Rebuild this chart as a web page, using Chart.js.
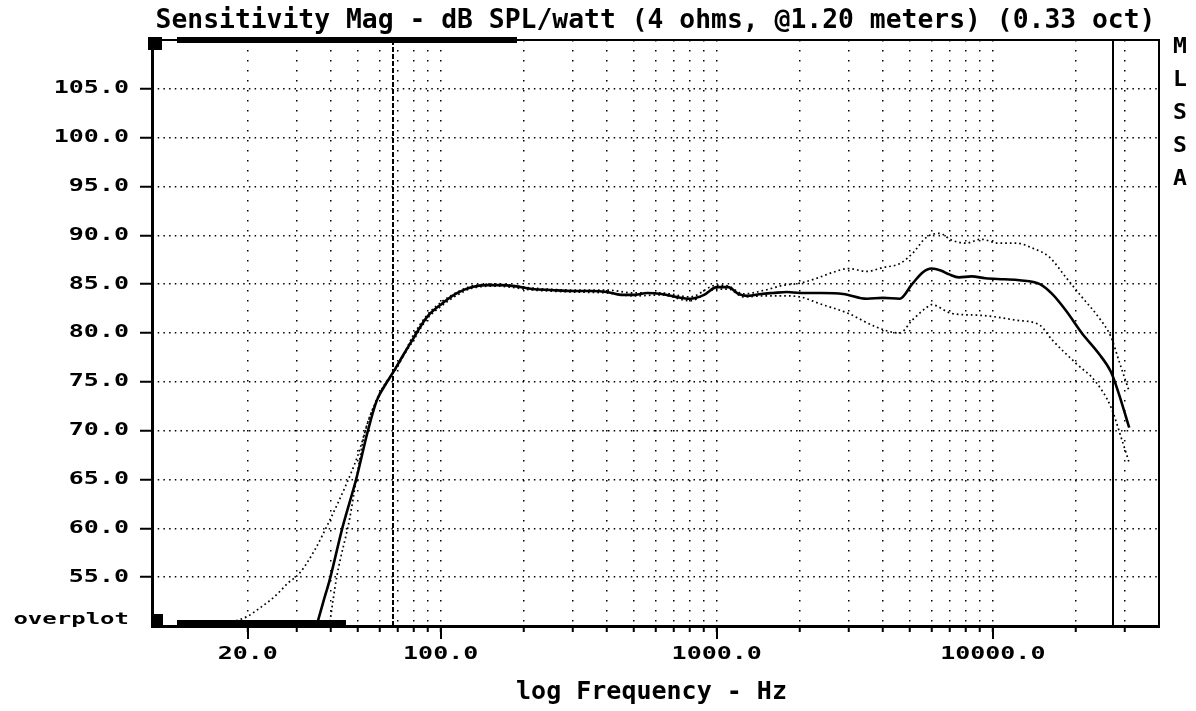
<!DOCTYPE html>
<html>
<head>
<meta charset="utf-8">
<script src="https://cdn.jsdelivr.net/npm/chart.js@4.4.0/dist/chart.umd.min.js"></script>
<style>
  html, body { margin: 0; padding: 0; background: #fff; }
  #wrap { width: 1196px; height: 711px; position: relative; }
</style>
</head>
<body>
<div id="wrap"><canvas id="chart"></canvas></div>
<script>
// main response (solid)
const mainFreq = [35.5, 37.5, 39.6, 44, 49.6, 54.5, 58.7, 63, 67, 73, 79, 89, 101, 115, 130, 145, 165, 185, 215, 250,
  300, 350, 400, 450, 500, 560, 630, 710, 800, 900, 1000, 1100, 1200, 1300, 1450, 1600, 1800, 2000, 2400, 2870,
  3500, 4000, 4600, 5100, 5570, 6000, 6480, 6950, 7540, 8380, 9400, 11000, 12500, 14800, 16400, 18400, 21000,
  24200, 26800, 28600, 31200];
const mainDb = [50, 52.4, 54.7, 60, 65.2, 70, 73.1, 74.7, 75.9, 77.7, 79.3, 81.6, 83, 84.1, 84.7, 84.9, 84.9, 84.8, 84.5, 84.4,
  84.3, 84.3, 84.2, 83.9, 83.9, 84.1, 84.0, 83.7, 83.5, 83.9, 84.7, 84.7, 84.0, 83.8, 84.0, 84.1, 84.2, 84.1, 84.1, 84.0,
  83.5, 83.6, 83.5, 85.0, 86.2, 86.6, 86.4, 86.0, 85.7, 85.8, 85.6, 85.5, 85.4, 85.0, 84.0, 82.3, 80.0,
  77.9, 76.0, 73.8, 70.3];

// overplot curves (dotted)
const upperFreq = [15, 17, 20, 22, 25, 28, 30.8, 35, 39.6, 45, 50, 55, 60, 65, 70, 79, 89, 101, 115, 130, 160, 215,
  300, 400, 500, 630, 800, 1000, 1100, 1250, 1500, 1750, 2000, 2300, 2630, 3000, 3490, 4000, 4600, 5100, 5750,
  6420, 7100, 8000, 9050, 10500, 12200, 13900, 16000, 18400, 21000, 24200, 26800, 28600, 31200];
const upperDb = [50, 50.3, 51, 51.8, 53, 54.4, 55.4, 57.8, 60.8, 64.2, 67.4, 71.2, 73.8, 75.4, 76.6, 79.6, 81.8, 83.2, 84.2, 84.8, 85.0, 84.6,
  84.4, 84.4, 84.1, 84.1, 83.7, 84.9, 84.8, 84.0, 84.4, 84.9, 85.1, 85.6, 86.2, 86.6, 86.3, 86.7, 87.1, 88.1, 89.8,
  90.2, 89.5, 89.2, 89.6, 89.2, 89.2, 88.7, 87.8, 85.7, 83.7, 81.6, 79.6, 77.2, 74.0];

const lowerFreq = [39.5, 42, 46.8, 50, 53, 58, 65, 73, 79, 89, 101, 115, 130, 160, 215, 300, 400, 500, 630, 800,
  1000, 1100, 1250, 1500, 1750, 2000, 2360, 3000, 3790, 4600, 5100, 5750, 6000, 7100, 9150, 12200, 14800,
  16400, 20000, 23600, 26800, 29400, 31200];
const lowerDb = [50, 55, 61, 65.8, 69.7, 72.8, 75.3, 77.6, 79.1, 81.4, 82.8, 83.9, 84.6, 84.8, 84.4, 84.2, 84.1, 83.8, 83.9, 83.3,
  84.5, 84.5, 83.7, 83.8, 83.8, 83.7, 83.0, 82.0, 80.6, 80.0, 81.3, 82.6, 82.9, 82.0, 81.8, 81.3, 80.8,
  79.3, 76.9, 75.0, 72.4, 69.0, 66.7];

// axes
const freqGrid = [20, 30, 40, 50, 60, 70, 80, 90, 100, 200, 300, 400, 500, 600, 700, 800, 900,
  1000, 2000, 3000, 4000, 5000, 6000, 7000, 8000, 9000, 10000, 20000, 30000];
const freqLabelValues = [20, 100, 1000, 10000];
const freqLabelTexts = ['20.0', '100.0', '1000.0', '10000.0'];
const dbTicks = [55, 60, 65, 70, 75, 80, 85, 90, 95, 100, 105];
const cursorFreqs = [67, 27200];

function pts(f, d) {
  return f.map((v, i) => ({ x: v, y: d[i] }));
}

// wide bitmap-like text
function wideText(ctx, text, x, y, size, sx, align) {
  ctx.save();
  ctx.font = 'bold ' + size + 'px "DejaVu Sans Mono"';
  ctx.textBaseline = 'middle';
  ctx.textAlign = 'left';
  ctx.fillStyle = '#000';
  const w = ctx.measureText(text).width * sx;
  let left = x;
  if (align === 'right') left = x - w;
  if (align === 'center') left = x - w / 2;
  ctx.translate(left, y);
  ctx.scale(sx, 1);
  ctx.fillText(text, 0, 0);
  ctx.restore();
}

const decorPlugin = {
  id: 'decor',
  beforeDatasetsDraw(chart) {
    const { ctx, chartArea: a, scales: { x } } = chart;
    // cursor lines
    ctx.save();
    ctx.strokeStyle = '#000';
    ctx.lineWidth = 2;
    const px0 = Math.round(x.getPixelForValue(cursorFreqs[0]));
    ctx.setLineDash([5, 2]);
    ctx.beginPath();
    ctx.moveTo(px0, a.top);
    ctx.lineTo(px0, a.bottom);
    ctx.stroke();
    ctx.setLineDash([]);
    const px1 = Math.round(x.getPixelForValue(cursorFreqs[1]));
    ctx.beginPath();
    ctx.moveTo(px1, a.top);
    ctx.lineTo(px1, a.bottom);
    ctx.stroke();
    ctx.restore();
  },
  afterDraw(chart) {
    const { ctx, chartArea: a, scales: { x, y } } = chart;
    ctx.save();
    ctx.fillStyle = '#000';
    ctx.strokeStyle = '#000';

    // frame
    ctx.lineWidth = 2;
    ctx.strokeRect(a.left, a.top, a.right - a.left, a.bottom - a.top);
    ctx.fillRect(a.left - 1, a.top, 3, a.bottom - a.top + 2);
    ctx.fillRect(a.left - 1, a.bottom - 1, a.right - a.left + 2, 3);

    // scroll indicators
    ctx.fillRect(a.left - 4, a.top - 3, 14, 13);
    ctx.fillRect(a.left + 25, a.top - 3, 340, 6);
    ctx.fillRect(a.left, a.bottom - 12, 11, 12);
    ctx.fillRect(a.left + 25, a.bottom - 6, 169, 6);

    // longer ticks at labelled frequencies
    ctx.lineWidth = 2;
    freqLabelValues.forEach(v => {
      const px = Math.round(x.getPixelForValue(v));
      ctx.beginPath();
      ctx.moveTo(px, a.bottom);
      ctx.lineTo(px, a.bottom + 13);
      ctx.stroke();
    });
    ctx.restore();

    // y labels
    dbTicks.forEach(v => {
      wideText(ctx, v.toFixed(1), 129, y.getPixelForValue(v), 17, 1.47, 'right');
    });
    wideText(ctx, 'overplot', 129, a.bottom - 6, 15, 1.6, 'right');

    // x labels
    freqLabelValues.forEach((v, i) => {
      wideText(ctx, freqLabelTexts[i], x.getPixelForValue(v), a.bottom + 29, 17, 1.47, 'center');
    });

    // titles
    const cx = (a.left + a.right) / 2;
    wideText(ctx, 'Sensitivity Mag - dB SPL/watt (4 ohms, @1.20 meters) (0.33 oct)', cx, 21, 26, 1.014, 'center');
    wideText(ctx, 'log Frequency - Hz', cx - 4, 692, 25, 1.0, 'center');

    // side label
    'MLSSA'.split('').forEach((c, i) => {
      wideText(ctx, c, 1180, 48 + i * 33, 21, 1.1, 'center');
    });
  }
};

new Chart(document.getElementById('chart'), {
  type: 'line',
  data: {
    datasets: [
      { data: pts(mainFreq, mainDb), borderColor: '#000', borderWidth: 2.6, pointRadius: 0, cubicInterpolationMode: 'monotone' },
      { data: pts(upperFreq, upperDb), borderColor: '#000', borderWidth: 1.7, borderDash: [1.7, 3], pointRadius: 0, cubicInterpolationMode: 'monotone' },
      { data: pts(lowerFreq, lowerDb), borderColor: '#000', borderWidth: 1.7, borderDash: [1.7, 3], pointRadius: 0, cubicInterpolationMode: 'monotone' }
    ]
  },
  options: {
    responsive: true,
    maintainAspectRatio: false,
    animation: false,
    layout: { padding: { top: 40, right: 37, left: 0, bottom: 0 } },
    plugins: { legend: { display: false }, tooltip: { enabled: false } },
    scales: {
      x: {
        type: 'logarithmic',
        min: 9,
        max: 40000,
        afterBuildTicks: s => { s.ticks = freqGrid.map(v => ({ value: v })); },
        afterFit: s => { s.height = 85; },
        ticks: { display: false },
        grid: { color: '#000', lineWidth: 1.5, tickLength: 6, tickWidth: 2 },
        border: { display: false, dash: [1.5, 8.5] }
      },
      y: {
        min: 50,
        max: 110,
        afterBuildTicks: s => { s.ticks = dbTicks.map(v => ({ value: v })); },
        afterFit: s => { s.width = 152; },
        ticks: { display: false },
        grid: { color: '#000', lineWidth: 1.5, tickLength: 12, tickWidth: 2 },
        border: { display: false, dash: [1.5, 4.2] }
      }
    }
  },
  plugins: [decorPlugin]
});
</script>
</body>
</html>
